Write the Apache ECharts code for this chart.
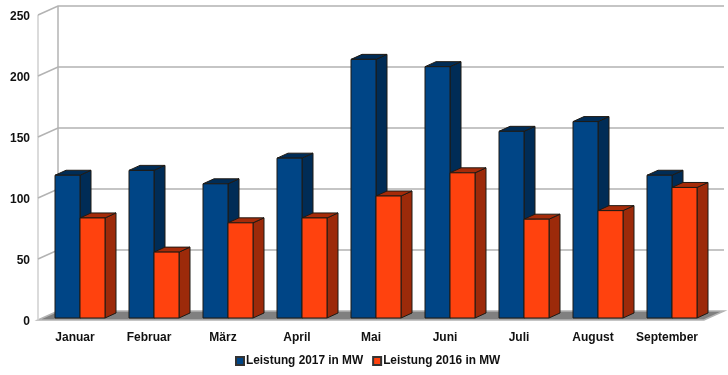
<!DOCTYPE html>
<html><head><meta charset="utf-8">
<style>html,body{margin:0;padding:0;background:#fff}#c{width:728px;height:375px}</style>
<script src="https://cdn.jsdelivr.net/npm/echarts@6/dist/echarts.min.js"></script>
</head><body><div id="c"></div>
<script>
const categories = ['Januar','Februar','März','April','Mai','Juni','Juli','August','September'];
const leistung2017 = [117,121,110,131,212,206,153,161,117];
const leistung2016 = [82,54,78,82,100,119,81,88,107];
const yTicks = [0,50,100,150,200,250];

const WALL_DX = 20, WALL_DY = -9;   // depth of the chart box
const BAR_DX = 11, BAR_DY = -5;     // depth of a bar
const SHIFT_X = 5, SHIFT_Y = -2;    // bars stand slightly inside the box
const BAR_W = 25;

function barSeries(name, values, front, top, side, dir) {
  return {
    name, type: 'custom', coordinateSystem: 'cartesian2d', clip: false, z: 3,
    itemStyle: { color: front, borderColor: '#333', borderWidth: 1 },
    encode: { x: 0, y: 1 },
    data: values.map((v, i) => [i, v]),
    renderItem(params, api) {
      const t = api.coord([api.value(0), api.value(1)]);
      const b = api.coord([api.value(0), 0]);
      const cx = t[0] + SHIFT_X;
      const x0 = dir < 0 ? cx - BAR_W : cx, x1 = x0 + BAR_W;
      const yT = t[1] + SHIFT_Y, yB = b[1] + SHIFT_Y;
      const edge = { lineWidth: 1, lineJoin: 'round' };
      return { type: 'group', children: [
        { type: 'polygon', shape: { points: [[x1,yT],[x1+BAR_DX,yT+BAR_DY],[x1+BAR_DX,yB+BAR_DY],[x1,yB]] },
          style: Object.assign({ fill: side, stroke: '#1f1a14' }, edge) },
        { type: 'polygon', shape: { points: [[x0,yT],[x0+BAR_DX,yT+BAR_DY],[x1+BAR_DX,yT+BAR_DY],[x1,yT]] },
          style: Object.assign({ fill: top, stroke: '#1f1a14' }, edge) },
        { type: 'rect', shape: { x: x0, y: yT, width: BAR_W, height: yB - yT },
          style: Object.assign({ fill: front, stroke: '#1f1a14' }, edge) }
      ]};
    }
  };
}

const option = {
  animation: false,
  backgroundColor: '#fff',
  grid: { left: 38, right: 24, top: 15, bottom: 55 },
  legend: {
    top: 355, left: 235, itemWidth: 8, itemHeight: 8, itemGap: 9,
    icon: 'rect', padding: 0,
    textStyle: { fontFamily: 'Liberation Sans', fontWeight: 'bold', fontSize: 11.85, color: '#111', padding: [0,0,0,-3] },
    data: ['Leistung 2017 in MW','Leistung 2016 in MW']
  },
  xAxis: {
    type: 'category', data: categories, boundaryGap: true,
    axisLine: { show: false }, axisTick: { show: false },
    axisLabel: { fontFamily: 'Liberation Sans', fontWeight: 'bold', fontSize: 12, color: '#111', margin: 12, interval: 0 }
  },
  yAxis: {
    type: 'value', min: 0, max: 250, interval: 50,
    axisLine: { show: false }, axisTick: { show: false }, splitLine: { show: false },
    axisLabel: {
      margin: 8, formatter: '{t|{value}}',
      rich: { t: { fontFamily: 'Liberation Sans', fontWeight: 'bold', fontSize: 12, color: '#111', padding: [4,0,0,0] } }
    }
  },
  series: [
    { // floor and walls of the box, ruled at the axis ticks
      type: 'custom', coordinateSystem: 'cartesian2d', clip: false, z: 1, silent: true,
      legendHoverLink: false, encode: { y: 0 },
      data: yTicks.map(v => [v]),
      renderItem(params, api) {
        const v = api.value(0);
        const p = api.coord([0, v]);
        const x0 = params.coordSys.x, x1 = x0 + params.coordSys.width;
        const y = p[1];
        const grid = { stroke: '#b3b3b3', lineWidth: 1.5, fill: null };
        const kids = [
          { type: 'polyline', shape: { points: [[x0,y],[x0+WALL_DX,y+WALL_DY],[x1+WALL_DX,y+WALL_DY]] }, style: grid }
        ];
        if (v === 0) {
          const top = api.coord([0, 250])[1];
          kids.unshift(
            { type: 'polygon', shape: { points: [[x0,y],[x0+WALL_DX,y+WALL_DY],[x1+WALL_DX,y+WALL_DY],[x1,y]] },
              style: { fill: '#808080', stroke: '#b3b3b3', lineWidth: 1.5 } },
            { type: 'line', shape: { x1: x0, y1: y, x2: x0, y2: top }, style: { stroke: '#cfcfcf', lineWidth: 1.5 } },
            { type: 'line', shape: { x1: x0+WALL_DX, y1: y+WALL_DY, x2: x0+WALL_DX, y2: top+WALL_DY }, style: { stroke: '#b3b3b3', lineWidth: 1.5 } }
          );
          kids.pop();
        }
        return { type: 'group', children: kids };
      }
    },
    barSeries('Leistung 2017 in MW', leistung2017, '#004586', '#002c56', '#002c56', -1),
    barSeries('Leistung 2016 in MW', leistung2016, '#ff420e', '#a62b09', '#9c2a0a', 1)
  ]
};
echarts.init(document.getElementById('c'), null, { renderer: 'canvas' }).setOption(option);
</script></body></html>
